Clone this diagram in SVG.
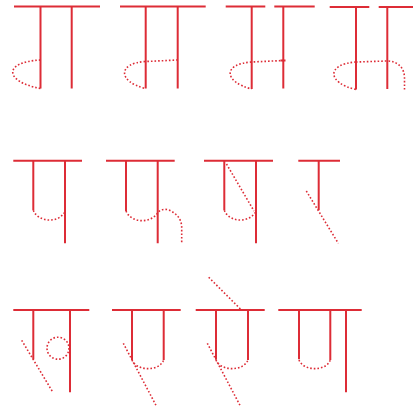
<svg xmlns="http://www.w3.org/2000/svg" width="413" height="413" viewBox="0 0 413 413">
<style>
.s{stroke:#dd2c36;stroke-width:2;fill:none}
.d{stroke:#dd2c36;stroke-width:1.6;fill:none;stroke-dasharray:1.6 2}
</style>
<rect width="413" height="413" fill="#fff"/>
<g id="g1">
<path class="s" d="M14,6.5H100M40.5,6.5V88.5M71.7,6.5V88.5"/>
<path class="d" d="M40.5,60 C2,62 5,82 40.5,88.5"/>
</g>
<g id="g2">
<path class="s" d="M120,6.5H205.7M145.7,6.5V88.5M177.7,6.5V88.5"/>
<path class="d" d="M177.7,60 L145.7,61.5 C117,63 118,82 145.7,88.5"/>
</g>
<g id="g3">
<path class="s" d="M225.7,6.5H265.3M274.3,6.5H314.7M251.7,6.5V89M283.3,6.5V88.5M280.5,60.5H285.5"/>
<path class="d" d="M284,60.5 L251.7,62 C222,64 224,82 251.7,89"/>
</g>
<g id="g4">
<path class="s" d="M329.7,7H369.3M378.7,7H413M356,7V89.5M387.3,7V89"/>
<path class="d" d="M356,62 C326,64 327,83 356,89.5M356,62 L387,61 C398,61 404.5,68 404.5,78 L404.5,89.5"/>
</g>
<g id="g5">
<path class="s" d="M13.3,160.7H82M33.3,160.7V210.3M65,160.7V243.3"/>
<path class="d" d="M33.3,210.3 C38,222 58,224 65,211.7"/>
</g>
<g id="g6">
<path class="s" d="M106,160.7H174.7M126,160.7V211M157.7,160.7V243.3"/>
<path class="d" d="M126,211 C131,223 150,224 157.7,213 C160,209 166,208.5 170,210.5 C177,214 181.7,219 181.7,228 L181.7,243.3"/>
</g>
<g id="g7">
<path class="s" d="M204,160.7H273M224.3,160.7V210.3M256,160.7V243.3"/>
<path class="d" d="M226.5,164 L254,211M224.3,210.3 C229,222 248,224 256,211.7"/>
</g>
<g id="g8">
<path class="s" d="M298.3,160.7H340M318.7,160.7V210.3"/>
<path class="d" d="M306.3,191 L338.3,243.3"/>
</g>
<g id="g9">
<path class="s" d="M13.3,310H89.3M33.3,310V359.3M70,310V392.3"/>
<path class="d" d="M21.7,340.3 L52.7,392"/>
<circle class="d" cx="58" cy="348.2" r="11"/>
</g>
<g id="g10">
<path class="s" d="M112,310H180.7M132,310V360M163.7,310V360"/>
<path class="d" d="M132,360 C136,371 159,372 163.7,360M123.3,343.3 L156.7,406.7"/>
</g>
<g id="g11">
<path class="s" d="M195.7,310H264.7M216,310V359.3M248,310V360"/>
<path class="d" d="M216,360 C220,371 243,372 248,360M208.7,277.3 L240.7,309.3M207.3,343.3 L240.7,406.7"/>
</g>
<g id="g12">
<path class="s" d="M278.3,310H361.7M299,310V359.3M330.3,310V360M346,310V392.3"/>
<path class="d" d="M299,360 C303,371 326,372 330.3,360"/>
</g>
</svg>
